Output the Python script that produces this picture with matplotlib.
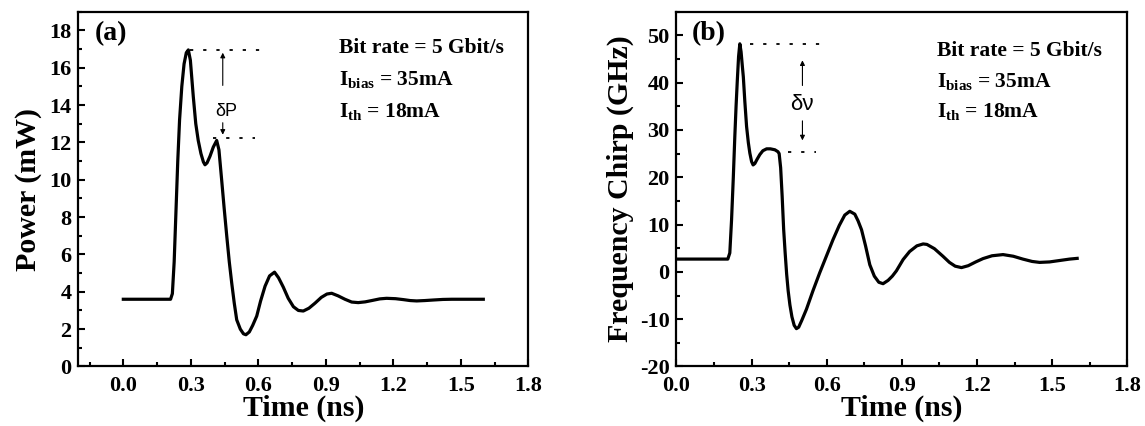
import matplotlib
matplotlib.use("Agg")
import matplotlib.pyplot as plt
from matplotlib.ticker import MultipleLocator, FormatStrFormatter

plt.rcParams['font.family'] = ['Liberation Serif', 'DejaVu Serif']
plt.rcParams['font.weight'] = 'bold'
plt.rcParams['axes.unicode_minus'] = False
plt.rcParams['mathtext.fontset'] = 'custom'
plt.rcParams['mathtext.rm'] = 'Liberation Serif:bold'
plt.rcParams['mathtext.bf'] = 'Liberation Serif:bold'
plt.rcParams['mathtext.it'] = 'Liberation Serif:bold'

# (a) power vs time
time_a = [0.00, 0.21, 0.218, 0.226, 0.234, 0.242, 0.25, 0.26, 0.27, 0.28,
          0.289, 0.298, 0.311, 0.322, 0.333, 0.345, 0.356, 0.363, 0.372, 0.385,
          0.400, 0.415, 0.425, 0.437, 0.448, 0.46, 0.471, 0.482, 0.493, 0.504,
          0.52, 0.534, 0.545, 0.56, 0.575, 0.593, 0.61, 0.63, 0.65, 0.672,
          0.69, 0.711, 0.733, 0.756, 0.778, 0.80, 0.825, 0.852, 0.88, 0.905,
          0.926, 0.955, 0.985, 1.015, 1.044, 1.075, 1.104, 1.14, 1.17, 1.21,
          1.245, 1.275, 1.304, 1.34, 1.378, 1.42, 1.46, 1.52, 1.60]
power = [3.6, 3.6, 3.9, 5.6, 8.3, 11.0, 13.2, 15.0, 16.2, 16.8,
         16.95, 16.4, 14.45, 13.0, 12.1, 11.4, 10.95, 10.8, 10.9, 11.25,
         11.75, 12.1, 11.6, 10.0, 8.5, 6.95, 5.6, 4.45, 3.4, 2.5,
         2.0, 1.75, 1.7, 1.85, 2.2, 2.7, 3.5, 4.3, 4.85, 5.05,
         4.75, 4.25, 3.65, 3.2, 3.0, 2.97, 3.12, 3.39, 3.7, 3.88,
         3.92, 3.78, 3.6, 3.45, 3.42, 3.46, 3.53, 3.62, 3.65, 3.63,
         3.58, 3.53, 3.51, 3.53, 3.56, 3.59, 3.6, 3.6, 3.6]

# (b) frequency chirp vs time
time_b = [0.00, 0.205, 0.213, 0.22, 0.227, 0.233, 0.238, 0.243, 0.248, 0.253,
          0.258, 0.263, 0.267, 0.273, 0.28, 0.287, 0.293, 0.300, 0.306, 0.313,
          0.322, 0.333, 0.345, 0.36, 0.375, 0.393, 0.405, 0.410, 0.416, 0.422,
          0.428, 0.434, 0.440, 0.446, 0.453, 0.461, 0.470, 0.479, 0.488, 0.50,
          0.519, 0.545, 0.572, 0.60, 0.625, 0.65, 0.672, 0.692, 0.712, 0.725,
          0.739, 0.755, 0.772, 0.79, 0.808, 0.825, 0.845, 0.862, 0.878, 0.905,
          0.931, 0.96, 0.985, 1.00, 1.03, 1.064, 1.09, 1.113, 1.138, 1.165,
          1.195, 1.224, 1.26, 1.304, 1.345, 1.383, 1.42, 1.45, 1.49, 1.53,
          1.57, 1.60]
chirp = [2.7, 2.7, 4.0, 11.0, 20.0, 28.6, 35.0, 40.5, 45.5, 48.2,
         46.5, 43.5, 41.2, 36.0, 30.7, 27.3, 25.1, 23.3, 22.6, 22.9,
         23.8, 24.8, 25.6, 26.0, 26.0, 25.8, 25.4, 25.0, 22.0, 16.0,
         9.0, 4.0, -0.5, -4.0, -7.0, -9.5, -11.3, -12.0, -11.7, -10.3,
         -7.9, -4.0, -0.2, 3.5, 6.8, 9.8, 12.0, 12.8, 12.2, 10.8,
         8.9, 5.5, 1.5, -0.9, -2.2, -2.5, -1.8, -0.9, 0.2, 2.6,
         4.3, 5.5, 5.9, 5.8, 4.9, 3.3, 2.0, 1.2, 0.9, 1.3,
         2.1, 2.8, 3.4, 3.65, 3.3, 2.7, 2.2, 2.0, 2.1, 2.4,
         2.7, 2.85]

info_lines = ['Bit rate = 5 Gbit/s', r'I$_{\mathbf{bias}}$ = 35mA', r'I$_{\mathbf{th}}$ = 18mA']

fig = plt.figure(figsize=(11.45, 4.26), dpi=100)
ax1 = fig.add_axes([0.0684, 0.1397, 0.393, 0.833])
ax2 = fig.add_axes([0.5908, 0.1397, 0.3937, 0.833])


def style_axes(ax, xmaj, xmin, ymaj, ymin):
    for s in ax.spines.values():
        s.set_linewidth(1.6)
    ax.xaxis.set_major_locator(MultipleLocator(xmaj))
    ax.xaxis.set_minor_locator(MultipleLocator(xmin))
    ax.yaxis.set_major_locator(MultipleLocator(ymaj))
    ax.yaxis.set_minor_locator(MultipleLocator(ymin))
    ax.xaxis.set_major_formatter(FormatStrFormatter('%.1f'))
    ax.yaxis.set_major_formatter(FormatStrFormatter('%d'))
    ax.tick_params(which='both', direction='in', top=False, right=False, width=1.5)
    ax.tick_params(which='major', length=5, labelsize=16)
    ax.tick_params(which='minor', length=3)
    ax.tick_params(axis='x', pad=7)
    ax.tick_params(axis='y', pad=5)
    ax.set_xlabel('Time (ns)', fontsize=21.5, fontweight='bold', labelpad=-1)


# panel a
ax1.plot(time_a, power, color='black', lw=2.3)
ax1.set_xlim(-0.2, 1.8)
ax1.set_ylim(0, 19)
style_axes(ax1, 0.3, 0.15, 2, 1)
ax1.set_ylabel('Power (mW)', fontsize=21.5, fontweight='bold', labelpad=5)
ax1.text(0.037, 0.939, '(a)', transform=ax1.transAxes, fontsize=20,
         fontweight='bold', va='center', ha='left')
ax1.plot([0.297, 0.608], [16.95, 16.95], color='black', lw=1.3, ls=(0, (1.8, 5.5)))
ax1.plot([0.397, 0.585], [12.26, 12.26], color='black', lw=1.3, ls=(0, (1.8, 5.5)))
ax1.annotate('', xy=(0.442, 16.95), xytext=(0.442, 14.9),
             arrowprops=dict(arrowstyle='-|>', lw=0.8, color='black', mutation_scale=7))
ax1.annotate('', xy=(0.442, 12.26), xytext=(0.442, 13.2),
             arrowprops=dict(arrowstyle='-|>', lw=0.8, color='black', mutation_scale=7))
ax1.text(0.456, 13.65, 'δP', fontsize=13, family='Liberation Sans', fontweight='normal',
         ha='center', va='center')
for txt, yy in zip(info_lines, [0.897, 0.809, 0.718]):
    ax1.text(0.58, yy, txt, transform=ax1.transAxes, fontsize=15.5,
             fontweight='bold', va='center', ha='left')

# panel b
ax2.plot(time_b, chirp, color='black', lw=2.3)
ax2.set_xlim(0, 1.8)
ax2.set_ylim(-20, 55)
style_axes(ax2, 0.3, 0.15, 10, 5)
ax2.set_ylabel('Frequency Chirp (GHz)', fontsize=21.5, fontweight='bold', labelpad=4)
ax2.text(0.034, 0.939, '(b)', transform=ax2.transAxes, fontsize=20,
         fontweight='bold', va='center', ha='left')
ax2.plot([0.293, 0.572], [48.1, 48.1], color='black', lw=1.3, ls=(0, (1.8, 5.5)))
ax2.plot([0.446, 0.559], [25.4, 25.4], color='black', lw=1.3, ls=(0, (1.8, 5.5)))
ax2.annotate('', xy=(0.503, 45.3), xytext=(0.503, 38.8),
             arrowprops=dict(arrowstyle='-|>', lw=0.8, color='black', mutation_scale=7))
ax2.annotate('', xy=(0.503, 27.2), xytext=(0.503, 32.5),
             arrowprops=dict(arrowstyle='-|>', lw=0.8, color='black', mutation_scale=7))
ax2.text(0.503, 35.3, 'δν', fontsize=16, family='Liberation Sans', fontweight='normal',
         ha='center', va='center')
for txt, yy in zip(info_lines, [0.888, 0.803, 0.719]):
    ax2.text(0.578, yy, txt, transform=ax2.transAxes, fontsize=15.5,
             fontweight='bold', va='center', ha='left')

fig.savefig('out.png', dpi=100)
